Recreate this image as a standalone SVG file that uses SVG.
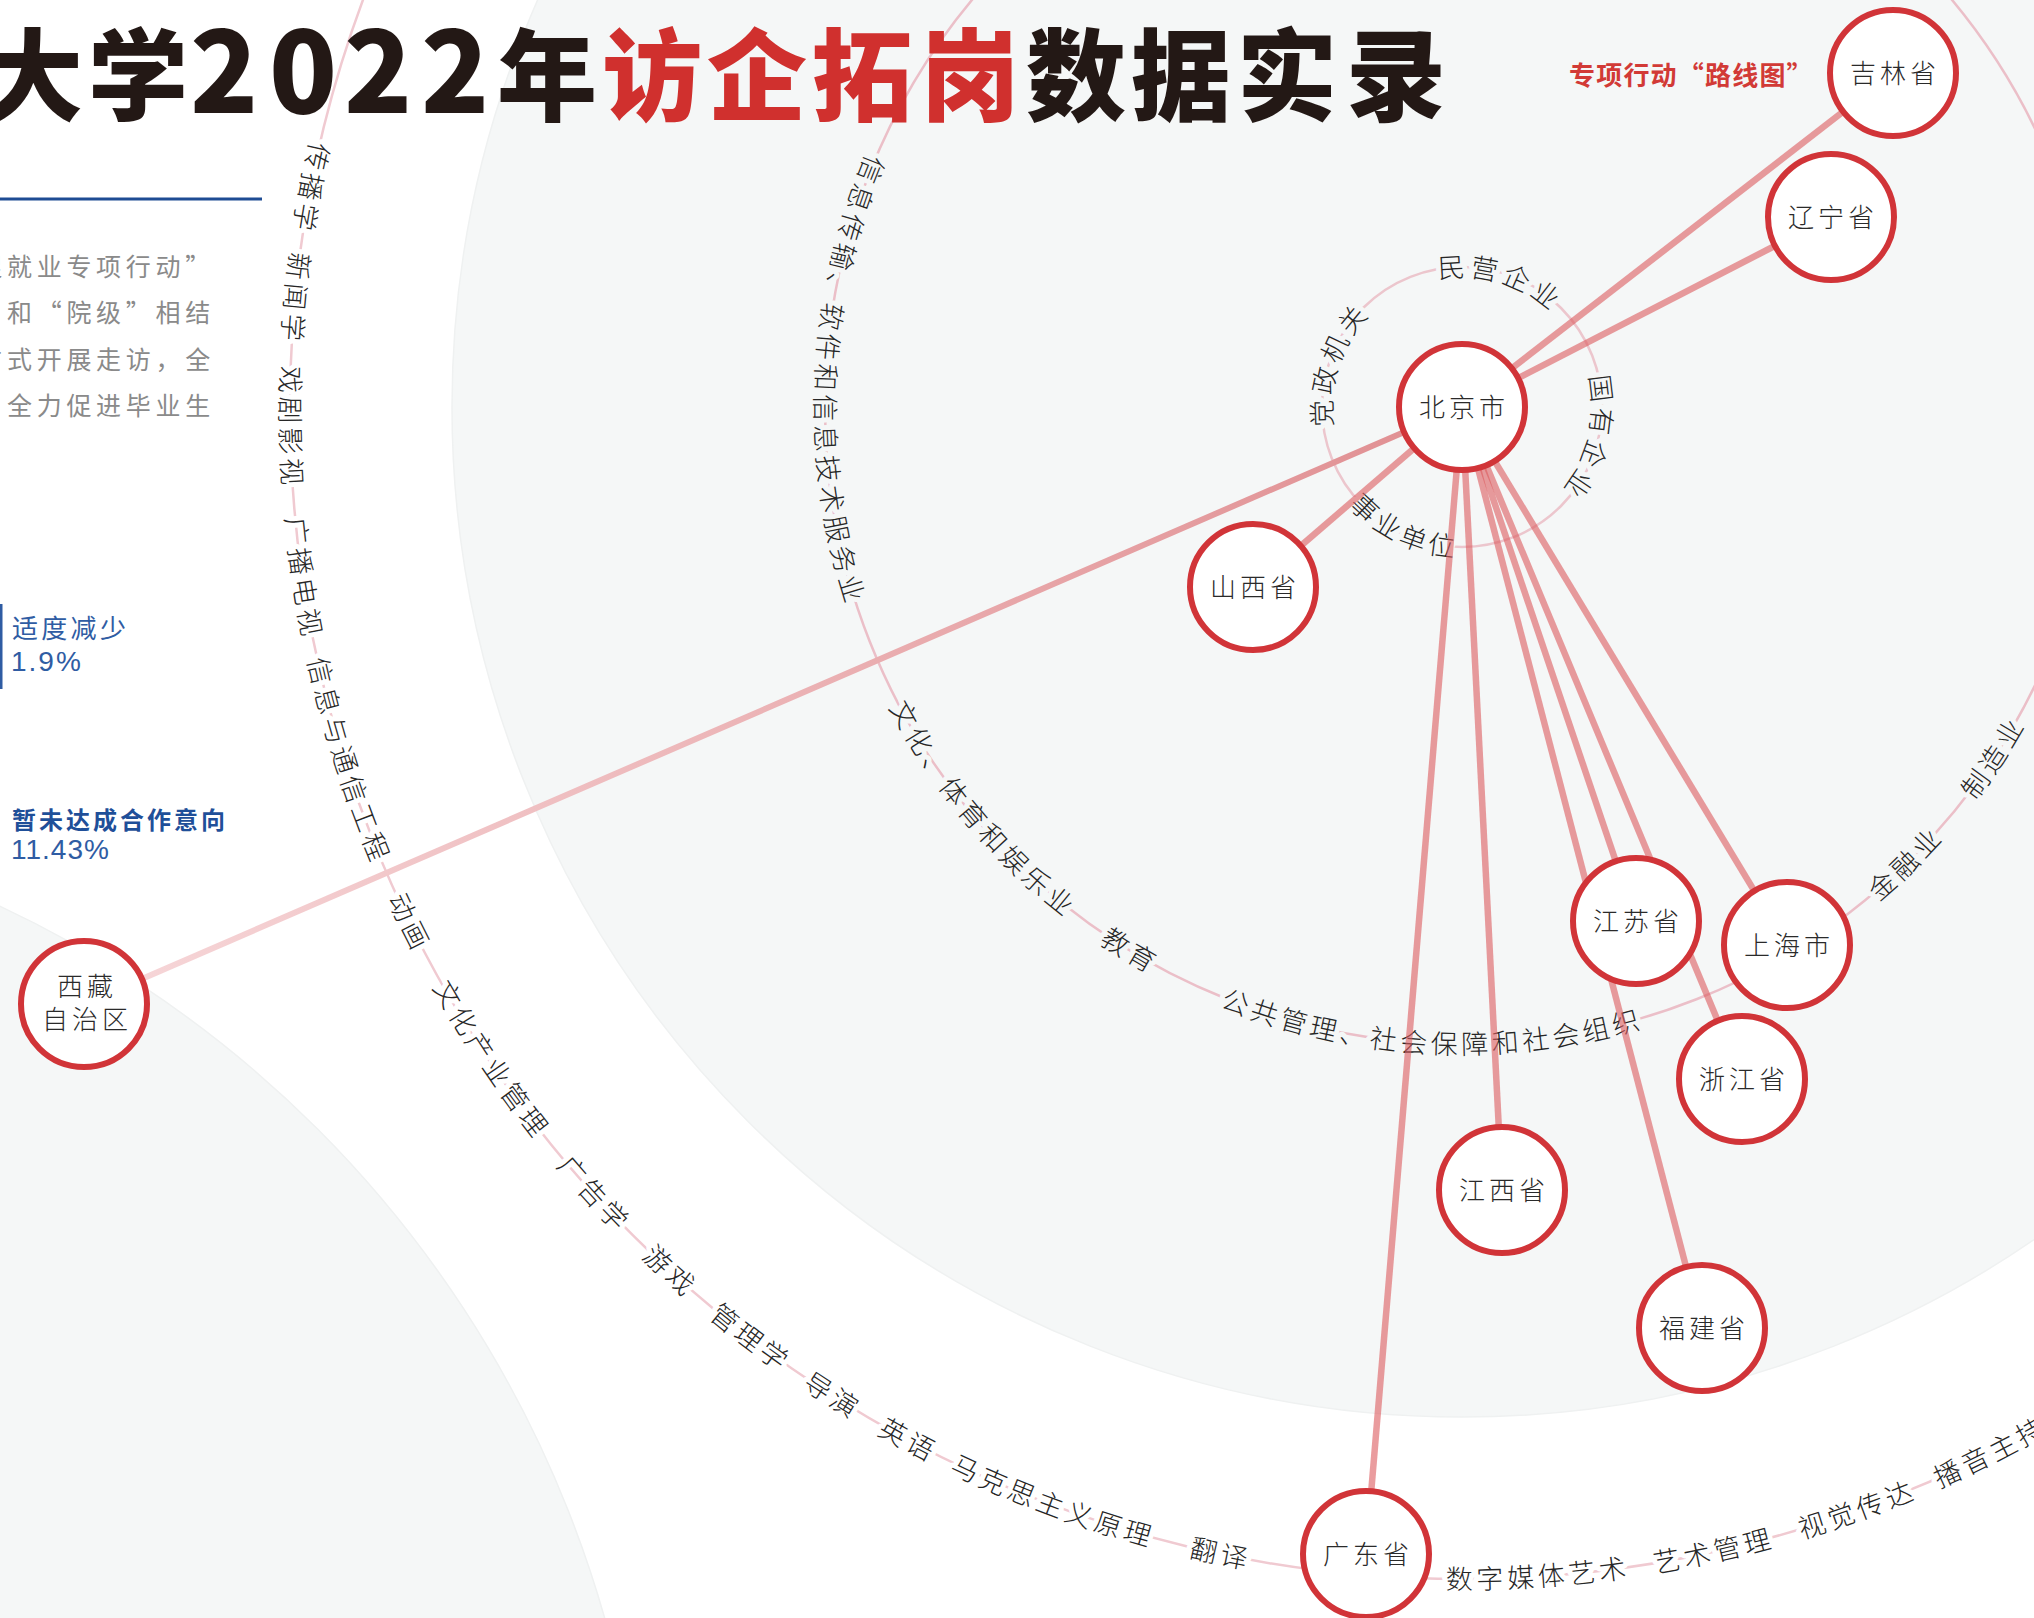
<svg xmlns="http://www.w3.org/2000/svg" width="2034" height="1618" viewBox="0 0 2034 1618">
<defs>
<style>
text{font-family:'Noto Sans CJK SC','Noto Sans',sans-serif;}
.title{font-size:100px;font-weight:900;fill:#231815;}
.red{fill:#d0302e;}
.intro{font-size:25px;fill:#8a8a8a;letter-spacing:4.7px;}
.blue{fill:#2f5ca3;}
.ring{fill:none;stroke-width:2.5;}
.lbl{font-size:27px;fill:#262626;letter-spacing:4px;paint-order:stroke;stroke-width:10px;stroke-linejoin:round;font-weight:300;}
.lw{stroke:#ffffff;}
.lg{stroke:#f5f7f7;}
.conn{stroke:#dc5a5e;stroke-opacity:.6;stroke-width:6.5;fill:none;}
.node circle{fill:#ffffff;stroke:#d13438;stroke-width:6;}
.node text{font-size:26px;fill:#2a2a2a;letter-spacing:4px;text-anchor:middle;font-weight:300;}
</style>
<path id="pOuter" d="M1462 -775 A1182 1182 0 1 0 1462 1589 A1182 1182 0 1 0 1462 -775"/>
<path id="pInd" d="M1462 -240 A647 647 0 1 0 1462 1054 A647 647 0 1 0 1462 -240"/>
<path id="pInCW" d="M1462 537 A130 130 0 1 1 1462 277 A130 130 0 1 1 1462 537"/>
<path id="pInCCW" d="M1462 257 A150 150 0 1 0 1462 557 A150 150 0 1 0 1462 257"/>
<linearGradient id="gXz" gradientUnits="userSpaceOnUse" x1="1462" y1="407" x2="84" y2="1004">
<stop offset="0" stop-color="#e08e91"/><stop offset="1" stop-color="#f7d8da"/>
</linearGradient>
</defs>

<g id="background">
<rect width="2034" height="1618" fill="#ffffff"/>
<circle cx="1462" cy="407" r="1010" fill="#f5f7f7" stroke="#eff1f1" stroke-width="1.5"/>
<circle cx="-477" cy="1924" r="1124" fill="#f5f7f7" stroke="#eff1f1" stroke-width="1.5"/>
</g>

<g id="rings">
<circle class="ring" cx="1462" cy="407" r="1172" stroke="#f0cad1"/>
<circle class="ring" cx="1462" cy="407" r="637" stroke="#ebbfc8"/>
<circle class="ring" cx="1462" cy="407" r="140" stroke="#ecc6cd"/>
</g>

<g id="title">
<text class="title" y="113"><tspan x="-17">大</tspan><tspan x="88">学</tspan><tspan font-size="112" x="190 269 344 421">2022</tspan><tspan x="497">年</tspan><tspan class="red" x="602 707 812 920">访企拓岗</tspan><tspan x="1026 1131 1237 1346">数据实录</tspan></text>
<text x="1569" y="85" font-size="26" font-weight="700" fill="#d23a36" letter-spacing="1.2">专项行动“路线图”</text>
</g>

<g id="intro">
<line x1="0" y1="199" x2="262" y2="199" stroke="#1e4c94" stroke-width="3"/>
<text class="intro" x="-22.7" y="275.5">促就业专项行动”</text>
<text class="intro" x="7" y="321.5">和“院级”相结</text>
<text class="intro" x="-22.7" y="368.5">方式开展走访，全</text>
<text class="intro" x="7" y="415">全力促进毕业生</text>
<rect x="0" y="604" width="2.5" height="85" fill="#2f5ca3"/>
<text class="blue" x="12" y="638" font-size="26" letter-spacing="3.3">适度减少</text>
<text class="blue" x="11" y="671" font-size="28" letter-spacing="2" style="font-family:'Liberation Sans',sans-serif">1.9%</text>
<text x="12" y="829" font-size="24" font-weight="700" fill="#1f4f99" letter-spacing="3">暂未达成合作意向</text>
<text class="blue" x="11" y="859" font-size="28" letter-spacing="1" style="font-family:'Liberation Sans',sans-serif">11.43%</text>
</g>

<g id="outer-ring-labels" text-anchor="middle">
<text class="lbl lw"><textPath href="#pOuter" startOffset="1635">传播学</textPath></text>
<text class="lbl lw"><textPath href="#pOuter" startOffset="1747">新闻学</textPath></text>
<text class="lbl lw"><textPath href="#pOuter" startOffset="1877">戏剧影视</textPath></text>
<text class="lbl lw"><textPath href="#pOuter" startOffset="2030">广播电视</textPath></text>
<text class="lbl lw"><textPath href="#pOuter" startOffset="2219.8">信息与通信工程</textPath></text>
<text class="lbl lw"><textPath href="#pOuter" startOffset="2395.1">动画</textPath></text>
<text class="lbl lw"><textPath href="#pOuter" startOffset="2556.1">文化产业管理</textPath></text>
<text class="lbl lw"><textPath href="#pOuter" startOffset="2727.3">广告学</textPath></text>
<text class="lbl lw"><textPath href="#pOuter" startOffset="2836.6">游戏</textPath></text>
<text class="lbl lw"><textPath href="#pOuter" startOffset="2941.8">管理学</textPath></text>
<text class="lbl lw"><textPath href="#pOuter" startOffset="3042.9">导演</textPath></text>
<text class="lbl lw"><textPath href="#pOuter" startOffset="3131.6">英语</textPath></text>
<text class="lbl lw"><textPath href="#pOuter" startOffset="3290.5">马克思主义原理</textPath></text>
<text class="lbl lw"><textPath href="#pOuter" startOffset="3467.9">翻译</textPath></text>
<text class="lbl lw"><textPath href="#pOuter" startOffset="3789.7">数字媒体艺术</textPath></text>
<text class="lbl lw"><textPath href="#pOuter" startOffset="3969.2">艺术管理</textPath></text>
<text class="lbl lw"><textPath href="#pOuter" startOffset="4119.8">视觉传达</textPath></text>
<text class="lbl lw"><textPath href="#pOuter" startOffset="4266.3">播音主持</textPath></text>
</g>

<g id="industry-ring-labels" text-anchor="middle">
<text class="lbl lg"><textPath href="#pInd" startOffset="988">信息传输、软件和信息技术服务业</textPath></text>
<text class="lbl lg"><textPath href="#pInd" startOffset="1468">文化、体育和娱乐业</textPath></text>
<text class="lbl lg"><textPath href="#pInd" startOffset="1678">教育</textPath></text>
<text class="lbl lg"><textPath href="#pInd" startOffset="2000.9">公共管理、社会保障和社会组织</textPath></text>
<text class="lbl lg"><textPath href="#pInd" startOffset="2531.7">金融业</textPath></text>
<text class="lbl lg"><textPath href="#pInd" startOffset="2671.7">制造业</textPath></text>
</g>

<g id="inner-ring-labels" text-anchor="middle">
<text class="lbl lg"><textPath href="#pInCW" startOffset="246.6">党政机关</textPath></text>
<text class="lbl lg"><textPath href="#pInCW" startOffset="446.7">民营企业</textPath></text>
<text class="lbl lg"><textPath href="#pInCW" startOffset="643.2">国有企业</textPath></text>
<text class="lbl lg"><textPath href="#pInCCW" startOffset="404.5">事业单位</textPath></text>
</g>

<g id="connectors">
<line class="conn" x1="1462" y1="407" x2="1893" y2="73"/>
<line class="conn" x1="1462" y1="407" x2="1831" y2="217"/>
<line class="conn" x1="1462" y1="407" x2="1253" y2="587"/>
<line class="conn" x1="1462" y1="407" x2="1636" y2="921"/>
<line class="conn" x1="1462" y1="407" x2="1787" y2="945"/>
<line class="conn" x1="1462" y1="407" x2="1742" y2="1079"/>
<line class="conn" x1="1462" y1="407" x2="1502" y2="1190"/>
<line class="conn" x1="1462" y1="407" x2="1702" y2="1328"/>
<line class="conn" x1="1462" y1="407" x2="1366" y2="1554"/>
<line x1="1462" y1="407" x2="84" y2="1004" stroke="url(#gXz)" stroke-width="6"/>
</g>

<g id="node-jilin" class="node"><circle cx="1893" cy="73" r="63"/><text x="1895" y="83">吉林省</text></g>
<g id="node-liaoning" class="node"><circle cx="1831" cy="217" r="63"/><text x="1833" y="227">辽宁省</text></g>
<g id="node-beijing" class="node"><circle cx="1462" cy="407" r="63"/><text x="1464" y="417">北京市</text></g>
<g id="node-shanxi" class="node"><circle cx="1253" cy="587" r="63"/><text x="1255" y="597">山西省</text></g>
<g id="node-xizang" class="node"><circle cx="84" cy="1004" r="63"/><text x="87" y="996">西藏</text><text x="87" y="1029">自治区</text></g>
<g id="node-jiangsu" class="node"><circle cx="1636" cy="921" r="63"/><text x="1638" y="931">江苏省</text></g>
<g id="node-shanghai" class="node"><circle cx="1787" cy="945" r="63"/><text x="1789" y="955">上海市</text></g>
<g id="node-zhejiang" class="node"><circle cx="1742" cy="1079" r="63"/><text x="1744" y="1089">浙江省</text></g>
<g id="node-jiangxi" class="node"><circle cx="1502" cy="1190" r="63"/><text x="1504" y="1200">江西省</text></g>
<g id="node-fujian" class="node"><circle cx="1702" cy="1328" r="63"/><text x="1704" y="1338">福建省</text></g>
<g id="node-guangdong" class="node"><circle cx="1366" cy="1554" r="63"/><text x="1368" y="1564">广东省</text></g>
</svg>
